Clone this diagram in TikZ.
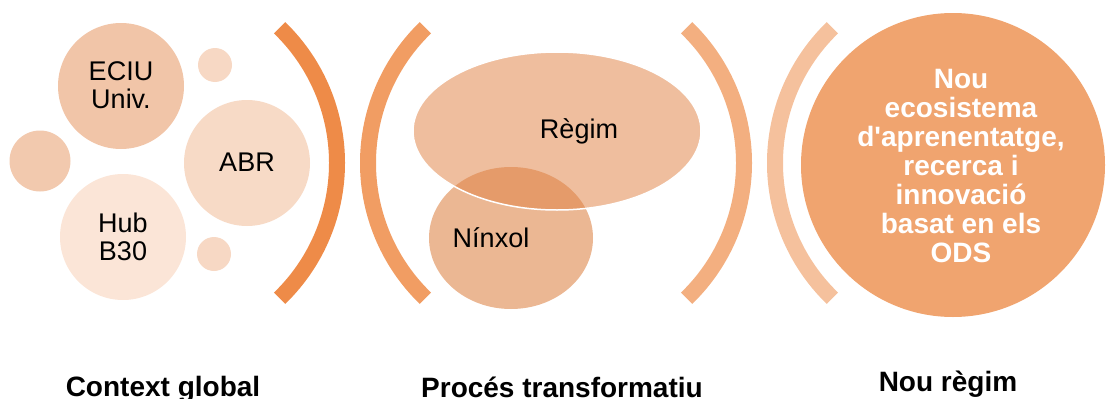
\documentclass[tikz,border=0pt]{standalone}
\usepackage{fontspec}
\setmainfont{Liberation Sans}[Ligatures=TeXOff]
\usetikzlibrary{shapes.geometric,calc}
\definecolor{cEciu}{HTML}{F1C5A8}
\definecolor{cLeft}{HTML}{F2C9AE}
\definecolor{cSmall}{HTML}{F7D8C4}
\definecolor{cAbr}{HTML}{F7DAC6}
\definecolor{cHub}{HTML}{FBE5D7}
\definecolor{cBrA}{HTML}{EE8B48}
\definecolor{cBrB}{HTML}{F19D63}
\definecolor{cBrC}{HTML}{F3AF80}
\definecolor{cBrD}{HTML}{F5C19D}
\definecolor{cRegim}{HTML}{EFBE9E}
\definecolor{cNinxol}{HTML}{EBB793}
\definecolor{cOver}{HTML}{E59B6A}
\definecolor{cBig}{HTML}{F0A46F}
\tikzset{
  disc/.style={circle, inner sep=0pt, minimum size=#1},
  lbl/.style={font=\fontsize{27}{28}\selectfont, align=center, inner sep=0pt},
  bracketarc/.style={line width=16pt, line cap=butt},
  caption/.style={font=\fontsize{28}{30}\selectfont\bfseries, anchor=base, inner sep=0pt},
}
\begin{document}
\begin{tikzpicture}[x=1pt,y=-1pt]
\useasboundingbox (0,0) rectangle (1112,399);
% left cluster
\node[disc=126pt, fill=cEciu] (eciu) at (121,86) {};
\node[disc=34pt, fill=cSmall] (s1) at (215,65) {};
\node[disc=61pt, fill=cLeft] (s2) at (40,161) {};
\node[disc=126pt, fill=cAbr] (abr) at (247,163) {};
\node[disc=126pt, fill=cHub] (hub) at (123,237) {};
\node[disc=34pt, fill=cSmall] (s3) at (214,254) {};
\node[lbl] (teciu) at (121,85) {ECIU\\Univ.};
\node[lbl] (tabr) at (247,162) {ABR};
\node[lbl] (thub) at (123,237) {Hub\\B30};
% brackets
\coordinate (ca) at (149,163);
\coordinate (cb) at (556,163);
\coordinate (cc) at (556,163);
\coordinate (cd) at (963,163);
\draw[bracketarc, cBrA] ($(ca)+(-46:188)$) arc[start angle=-46, end angle=46, radius=188];
\draw[bracketarc, cBrB] ($(cb)+(134:188)$) arc[start angle=134, end angle=226, radius=188];
\draw[bracketarc, cBrC] ($(cc)+(-46:188)$) arc[start angle=-46, end angle=46, radius=188];
\draw[bracketarc, cBrD] ($(cd)+(134:188)$) arc[start angle=134, end angle=226, radius=188];
% middle: regim / ninxol
\node[ellipse, inner sep=0pt, minimum width=164pt, minimum height=142pt, fill=cNinxol] (ninxol) at (511,238) {};
\node[ellipse, inner sep=0pt, minimum width=288pt, minimum height=158pt, fill=cRegim] (regim) at (557,131) {};
\begin{scope}
  \clip (511,238) ellipse [x radius=82, y radius=71];
  \fill[cOver] (557,131) ellipse [x radius=144, y radius=79];
\end{scope}
\draw[white, line width=1.5pt] (557,131) ellipse [x radius=144, y radius=79];
\node[lbl] (tregim) at (579,131) {Règim};
\node[lbl] (tninxol) at (491,238) {Nínxol};
% big circle
\node[disc=304pt, fill=cBig] (big) at (953,165) {};
\node[font=\fontsize{28}{29}\selectfont\bfseries, text=white, align=center, inner sep=0pt] (tbig) at (961,166)
  {Nou\\ecosistema\\d'aprenentatge,\\recerca i\\innovació\\basat en els\\ODS};
% captions
\node[caption] (c1) at (163,396) {Context global};
\node[caption] (c2) at (562,397) {Procés transformatiu};
\node[caption] (c3) at (948,391) {Nou règim};
\end{tikzpicture}
\end{document}
